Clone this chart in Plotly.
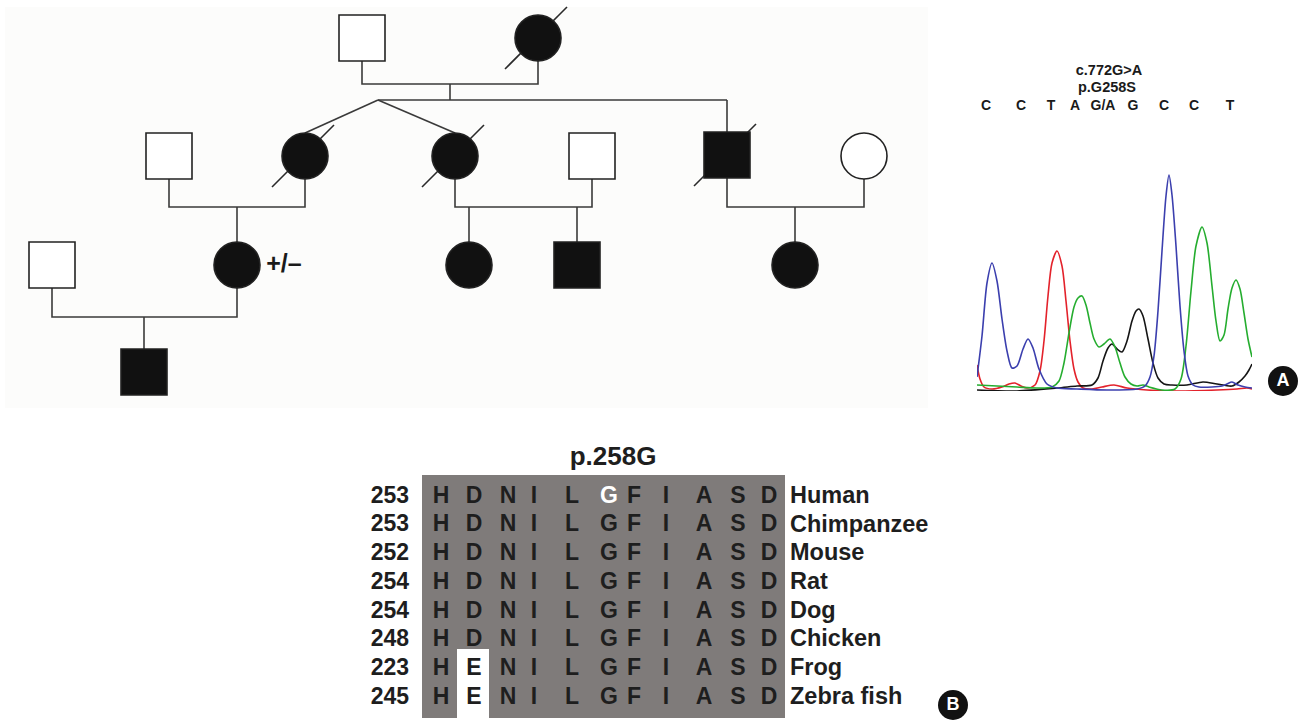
import plotly.graph_objects as go

FONT = "Liberation Sans, Arial, sans-serif"

# ---------------- Panel A: pedigree (individual positions in page pixels) -------------
ped_x = [362, 538, 169, 305, 455, 592, 727, 864, 52, 237, 469, 577, 795, 144]
ped_y = [38, 38, 156, 156, 156, 156, 155, 156, 265, 265, 265, 265, 265, 372]
ped_sex = ["M", "F", "M", "F", "F", "M", "M", "F", "M", "F", "F", "M", "F", "M"]
ped_affected = [0, 1, 0, 1, 1, 0, 1, 0, 0, 1, 1, 1, 1, 1]
ped_deceased = [0, 1, 0, 1, 1, 0, 1, 0, 0, 0, 0, 0, 0, 0]
ped_genotype = {9: "+/–"}
couples = [(0, 1), (2, 3), (4, 5), (6, 7), (8, 9)]
couple_line_y = [84, 207, 207, 207, 317]
children = {0: [3, 4, 6], 1: [9], 2: [10, 11], 3: [12], 4: [13]}
twin_pair = (3, 4)
twin_apex_x = 378
sibship_y = 100

# ---------------- Panel A: chromatogram (scan position, signal height) ----------------
base_calls = ["C", "C", "T", "A", "G/A", "G", "C", "C", "T"]
base_pos = [9, 44, 74, 98, 126, 156, 187, 217, 253]
mutation_label = "c.772G>A"
protein_label = "p.G258S"

blue_x = [0, 5, 10, 15, 20, 25, 30, 35, 40, 46, 51, 56, 62, 70, 80, 100, 130, 160, 168, 173,
          177, 181, 185, 189, 192, 195, 199, 203, 207, 211, 216, 222, 235, 245, 250, 255, 261, 268, 275]
blue_y = [14, 55, 108, 128, 110, 72, 40, 23, 25, 42, 52, 43, 22, 7, 3, 2, 1, 2, 5, 14,
          35, 80, 140, 195, 216, 196, 145, 85, 40, 15, 6, 4, 4, 5, 7, 9, 6, 4, 3]
red_x = [0, 3, 7, 15, 25, 32, 38, 44, 50, 58, 63, 67, 71, 75, 80, 85, 89, 93, 97, 101, 106,
         115, 125, 137, 150, 170, 200, 240, 260, 270, 275]
red_y = [26, 12, 4, 2, 4, 7, 8, 5, 3, 6, 20, 50, 95, 128, 140, 125, 90, 50, 22, 9, 3,
         2, 4, 6, 3, 1, 0, 1, 2, 3, 2]
green_x = [0, 20, 40, 60, 75, 82, 87, 92, 97, 101, 105, 109, 113, 117, 122, 127, 133, 138,
           143, 148, 154, 160, 166, 172, 185, 198, 204, 209, 214, 219, 225, 230, 235, 239,
           243, 247, 251, 255, 259, 263, 267, 271, 275]
green_y = [6, 5, 4, 3, 4, 10, 28, 58, 84, 93, 95, 86, 68, 52, 44, 47, 52, 44, 28, 14, 7,
           5, 6, 4, 1, 2, 12, 45, 100, 145, 164, 148, 105, 70, 50, 56, 82, 103, 111, 102, 78, 52, 34]
black_x = [0, 40, 80, 100, 115, 121, 126, 131, 135, 140, 145, 150, 155, 159, 162, 166, 171,
           176, 181, 187, 195, 210, 226, 240, 255, 262, 268, 272, 275]
black_y = [1, 0, 3, 5, 6, 13, 30, 43, 47, 42, 39, 50, 70, 80, 82, 75, 52, 28, 13, 7, 6, 6,
           9, 7, 5, 9, 15, 21, 27]

# ---------------- Panel B: conservation alignment ----------------
align_title = "p.258G"
species = ["Human", "Chimpanzee", "Mouse", "Rat", "Dog", "Chicken", "Frog", "Zebra fish"]
start_pos = [253, 253, 252, 254, 254, 248, 223, 245]
sequences = ["HDNILGFIASD", "HDNILGFIASD", "HDNILGFIASD", "HDNILGFIASD",
             "HDNILGFIASD", "HDNILGFIASD", "HENILGFIASD", "HENILGFIASD"]
mutated_col = 5

# ---------------- layout constants ----------------
SYM = 46
HALF = SYM / 2
col_px = [441, 474, 508, 534, 572, 609, 634, 666, 704, 738, 769]
row0_px, row_step = 497, 28.7
box = dict(x0=422, x1=785, y0=475, y1=718)
chrom_px = dict(x0=977, x1=1252, y0=391, y1=171)
W, H = 1314, 721

fig = go.Figure()

# ---- pedigree connecting lines ----
lx, ly = [], []
def seg(pts):
    for p in pts:
        lx.append(p[0]); ly.append(p[1])
    lx.append(None); ly.append(None)

for k, (a, b) in enumerate(couples):
    ym = couple_line_y[k]
    seg([(ped_x[a], ped_y[a] + HALF), (ped_x[a], ym), (ped_x[b], ym), (ped_x[b], ped_y[b] + HALF)])
    kids = children[k]
    if k == 0:
        mid = (ped_x[a] + ped_x[b]) / 2
        seg([(mid, ym), (mid, sibship_y)])
        others = [c for c in kids if c not in twin_pair]
        right = max(ped_x[c] for c in others)
        seg([(twin_apex_x, sibship_y), (right, sibship_y)])
        for c in twin_pair:
            seg([(twin_apex_x, sibship_y), (ped_x[c], ped_y[c] - HALF)])
        for c in others:
            seg([(ped_x[c], sibship_y), (ped_x[c], ped_y[c] - HALF)])
    else:
        for c in kids:
            seg([(ped_x[c], ym), (ped_x[c], ped_y[c] - HALF)])

fig.add_trace(go.Scatter(x=lx, y=ly, mode="lines", line=dict(color="#3a3a3a", width=1.6),
                         hoverinfo="skip", xaxis="x", yaxis="y"))

# deceased slashes
sx, sy = [], []
for i, d in enumerate(ped_deceased):
    if d:
        sx += [ped_x[i] - 33, ped_x[i] + 29, None]
        sy += [ped_y[i] + 31, ped_y[i] - 31, None]
fig.add_trace(go.Scatter(x=sx, y=sy, mode="lines", line=dict(color="#2a2a2a", width=1.6),
                         hoverinfo="skip", xaxis="x", yaxis="y"))

# individuals
fig.add_trace(go.Scatter(
    x=ped_x, y=ped_y, mode="markers", hoverinfo="skip", xaxis="x", yaxis="y",
    marker=dict(symbol=["square" if s == "M" else "circle" for s in ped_sex],
                size=SYM,
                color=["#111111" if a else "#ffffff" for a in ped_affected],
                line=dict(color="#222222", width=1.6))))

# genotype label
fig.add_trace(go.Scatter(
    x=[ped_x[i] + 47 for i in ped_genotype], y=[ped_y[i] + 1 for i in ped_genotype],
    text=["<b>" + t + "</b>" for t in ped_genotype.values()], mode="text",
    textfont=dict(family=FONT, size=25, color="#1a1a1a"), hoverinfo="skip",
    xaxis="x", yaxis="y"))

# ---- chromatogram traces ----
for xs, ys, col in [(red_x, red_y, "#e3222b"), (black_x, black_y, "#151515"),
                    (green_x, green_y, "#25ad2f"), (blue_x, blue_y, "#3b3fae")]:
    fig.add_trace(go.Scatter(x=xs, y=ys, mode="lines",
                             line=dict(color=col, width=1.6, shape="spline", smoothing=0.8),
                             hoverinfo="skip", xaxis="x2", yaxis="y2"))

# chromatogram labels (page pixels)
fig.add_trace(go.Scatter(
    x=[chrom_px["x0"] + p for p in base_pos], y=[106] * len(base_pos),
    text=["<b>" + b + "</b>" for b in base_calls], mode="text",
    textfont=dict(family=FONT, size=14, color="#1a1a1a"), hoverinfo="skip",
    xaxis="x", yaxis="y"))
fig.add_trace(go.Scatter(
    x=[1109, 1107], y=[71, 88], text=["<b>" + mutation_label + "</b>", "<b>" + protein_label + "</b>"],
    mode="text", textfont=dict(family=FONT, size=14.5, color="#1a1a1a"), hoverinfo="skip",
    xaxis="x", yaxis="y"))

# ---- alignment ----
ax, ay, at, ac = [], [], [], []
for r, seq in enumerate(sequences):
    for c, ch in enumerate(seq):
        ax.append(col_px[c]); ay.append(row0_px + r * row_step); at.append("<b>" + ch + "</b>")
        ac.append("#ffffff" if (r == 0 and c == mutated_col) else "#1e1e1e")
fig.add_trace(go.Scatter(x=ax, y=ay, text=at, mode="text",
                         textfont=dict(family=FONT, size=23, color=ac), hoverinfo="skip",
                         xaxis="x", yaxis="y"))
fig.add_trace(go.Scatter(x=[409] * len(start_pos), y=[row0_px + r * row_step for r in range(len(start_pos))],
                         text=["<b>%d</b>" % s for s in start_pos], mode="text", textposition="middle left",
                         textfont=dict(family=FONT, size=23, color="#1e1e1e"), hoverinfo="skip",
                         xaxis="x", yaxis="y"))
fig.add_trace(go.Scatter(x=[790] * len(species), y=[row0_px + r * row_step for r in range(len(species))],
                         text=["<b>" + s + "</b>" for s in species], mode="text", textposition="middle right",
                         textfont=dict(family=FONT, size=23.5, color="#1e1e1e"), hoverinfo="skip",
                         xaxis="x", yaxis="y"))
fig.add_trace(go.Scatter(x=[613], y=[458], text=["<b>" + align_title + "</b>"], mode="text",
                         textfont=dict(family=FONT, size=26, color="#1e1e1e"), hoverinfo="skip",
                         xaxis="x", yaxis="y"))

# panel badges
fig.add_trace(go.Scatter(x=[1283, 953], y=[381, 705], mode="markers+text", text=["<b>A</b>", "<b>B</b>"],
                         marker=dict(size=30, color="#111111"),
                         textfont=dict(family=FONT, size=18, color="#ffffff"), hoverinfo="skip",
                         xaxis="x", yaxis="y"))

shapes = [
    dict(type="rect", xref="x", yref="y", x0=5, x1=928, y0=7, y1=408,
         fillcolor="#fcfcfb", line=dict(width=0), layer="below"),
    dict(type="rect", xref="x", yref="y", x0=box["x0"], x1=box["x1"], y0=box["y0"], y1=box["y1"],
         fillcolor="#7f7b7a", line=dict(width=0), layer="below"),
    dict(type="rect", xref="x", yref="y", x0=457, x1=489, y0=649, y1=721,
         fillcolor="#ffffff", line=dict(width=0), layer="below"),
    dict(type="line", xref="x2", yref="y2", x0=0, x1=275, y0=-1, y1=-1,
         line=dict(color="#a8a8a8", width=2)),
]

fig.update_layout(
    width=W, height=H, margin=dict(l=0, r=0, t=0, b=0),
    paper_bgcolor="#ffffff", plot_bgcolor="rgba(0,0,0,0)", showlegend=False,
    shapes=shapes,
    xaxis=dict(range=[0, W], domain=[0, 1], visible=False, fixedrange=True),
    yaxis=dict(range=[H, 0], domain=[0, 1], visible=False, fixedrange=True),
    xaxis2=dict(range=[0, 275], domain=[chrom_px["x0"] / W, chrom_px["x1"] / W],
                visible=False, fixedrange=True, anchor="y2"),
    yaxis2=dict(range=[0, 220], domain=[(H - chrom_px["y0"]) / H, (H - chrom_px["y1"]) / H],
                visible=False, fixedrange=True, anchor="x2"),
)

fig.write_html("out.html", config={"displayModeBar": False},
               post_script="document.body.style.margin='0';document.body.style.overflow='hidden';")
